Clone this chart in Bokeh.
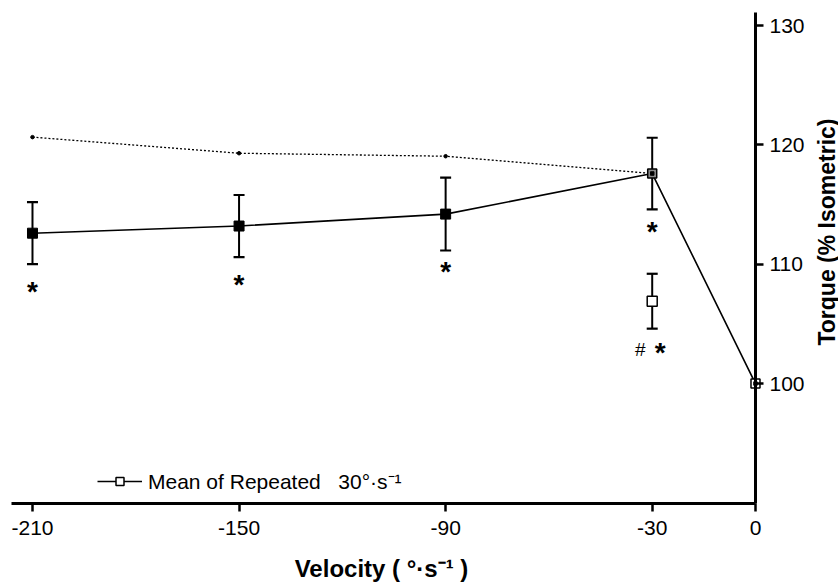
import math
from bokeh.plotting import figure
from bokeh.models import (Range1d, FixedTicker, Whisker, TeeHead, ColumnDataSource,
                          Legend, LegendItem, LinearAxis, Label)
from bokeh.core.properties import value
from bokeh.embed import file_html
from bokeh.resources import INLINE

# ---- data ----
velocity = [-210, -150, -90, -30, 0]
torque_mean = [112.6, 113.2, 114.2, 117.6, 100.0]
torque_se = [2.6, 2.6, 3.05, 3.0, 0.0]
peak_velocity = [-210, -150, -90, -30]
peak_torque = [120.65, 119.3, 119.05, 117.6]
repeat_velocity = [-30]
repeat_mean = [106.9]
repeat_se = [2.3]
sig_x = [-210, -150, -90, -30]
sig_y = [107.96, 108.55, 109.64, 113.0]
sig2_x = [-30]
sig2_y = [102.85]
x_ticks = [-210, -150, -90, -30, 0]
x_tick_labels = ["-210", "-150", "-90", "-30", "0"]
y_ticks = [100, 110, 120, 130]
x_axis_span = (-216.1, 0)
y_axis_span = (89.94, 131.1)
legend_label = "Mean of Repeated\u00a0\u00a0\u00a030\u00b0\u00b7s\u207b\u00b9"
x_label = "Velocity ( \u00b0\u00b7s\u207b\u00b9 )"
y_label = "Torque (% Isometric)"

FONT = "Liberation Sans"
W, H = 838, 584

p = figure(frame_width=W, frame_height=H, output_backend="svg", toolbar_location=None,
           x_range=Range1d(-219.29, 24.11), y_range=Range1d(83.16, 132.10),
           x_axis_location=None, y_axis_location=None,
           min_border_left=0, min_border_top=0, min_border_right=0, min_border_bottom=0)
p.outline_line_color = None
p.xgrid.visible = False
p.ygrid.visible = False
p.background_fill_color = "white"
p.border_fill_color = "white"

xaxis = LinearAxis(fixed_location=y_axis_span[0], bounds=x_axis_span,
                   ticker=FixedTicker(ticks=x_ticks),
                   major_label_overrides={t: s for t, s in zip(x_ticks, x_tick_labels)})
yaxis = LinearAxis(fixed_location=x_axis_span[1], bounds=y_axis_span,
                   ticker=FixedTicker(ticks=y_ticks))
for ax in (xaxis, yaxis):
    ax.axis_line_width = 3
    ax.axis_line_color = "black"
    ax.major_tick_line_width = 2.5
    ax.major_tick_line_color = "black"
    ax.major_tick_in = 0
    ax.major_tick_out = 8
    ax.minor_tick_line_color = None
    ax.major_label_text_font = FONT
    ax.major_label_text_font_size = "21px"
    ax.major_label_text_color = "black"
xaxis.major_label_standoff = 9
yaxis.major_label_standoff = 6
p.add_layout(xaxis, "below")
p.add_layout(yaxis, "right")

# axis titles
p.add_layout(Label(x=381, y=H - 567.5, x_units="screen", y_units="screen", text=x_label,
                   text_align="center", text_baseline="middle", text_font=FONT,
                   text_font_size="24px", text_font_style="bold", text_color="black"))
p.add_layout(Label(x=826, y=H - 231.5, x_units="screen", y_units="screen", text=y_label,
                   angle=90, angle_units="deg", text_align="center", text_baseline="middle",
                   text_font=FONT, text_font_size="23px", text_font_style="bold",
                   text_color="black"))

# dotted series
p.line(peak_velocity, peak_torque, line_color="black", line_width=1.3, line_dash="2 2")
p.scatter(peak_velocity, peak_torque, marker="circle", size=3.5, fill_color="black", line_color="black")

# error bars
upper = [m + s for m, s in zip(torque_mean[:4], torque_se[:4])]
lower = [m - s for m, s in zip(torque_mean[:4], torque_se[:4])]
src = ColumnDataSource(dict(x=velocity[:4], upper=upper, lower=lower))
p.add_layout(Whisker(source=src, base="x", upper="upper", lower="lower", dimension="height",
                     line_width=2, line_color="black",
                     upper_head=TeeHead(size=11, line_width=2.2, line_color="black"),
                     lower_head=TeeHead(size=11, line_width=2.2, line_color="black")))
rup = [m + s for m, s in zip(repeat_mean, repeat_se)]
rlo = [m - s for m, s in zip(repeat_mean, repeat_se)]
rsrc = ColumnDataSource(dict(x=repeat_velocity, upper=rup, lower=rlo))
p.add_layout(Whisker(source=rsrc, base="x", upper="upper", lower="lower", dimension="height",
                     line_width=2, line_color="black",
                     upper_head=TeeHead(size=11, line_width=2.2, line_color="black"),
                     lower_head=TeeHead(size=11, line_width=2.2, line_color="black")))

# main line
main_line = p.line(velocity, torque_mean, line_color="black", line_width=1.6)
p.scatter(velocity[:3], torque_mean[:3], marker="square", size=10, fill_color="black", line_color="black")
p.scatter(velocity[3:4], torque_mean[3:4], marker="square", size=9, fill_color="#8a8a8a",
          line_color="black", line_width=1.5)
p.scatter(velocity[4:], torque_mean[4:], marker="square", size=9, fill_color="white",
          line_color="black", line_width=1.5)
p.scatter(velocity[3:], torque_mean[3:], marker="square", size=3.5, fill_color="black", line_color="black")

# repeated mean
rep = p.scatter(repeat_velocity, repeat_mean, marker="square", size=10, fill_color="white",
                line_color="black", line_width=1.5)

# significance marks
p.text(sig_x, sig_y, text=["*"] * len(sig_x), text_font=value(FONT), text_font_size="28px",
       text_font_style="bold", text_align="center", text_baseline="middle", y_offset=3,
       text_color="black")
p.text(sig2_x, sig2_y, text=["*"], text_font=value(FONT), text_font_size="28px",
       text_font_style="bold", text_align="center", text_baseline="middle", y_offset=3,
       x_offset=8, text_color="black")
p.text(sig2_x, sig2_y, text=["#"], text_font=value(FONT), text_font_size="19px",
       text_align="center", text_baseline="middle", x_offset=-12, text_color="black")

# legend
legend = Legend(items=[LegendItem(label=legend_label, renderers=[main_line, rep])],
                location=(97, H - 495), glyph_width=45, glyph_height=20, label_standoff=6,
                padding=0, margin=0, spacing=0, border_line_color=None,
                background_fill_alpha=0, label_text_font=FONT, label_text_font_size="21px",
                label_text_color="black")
p.add_layout(legend, "center")

open("out.html", "w").write(file_html(p, INLINE))
